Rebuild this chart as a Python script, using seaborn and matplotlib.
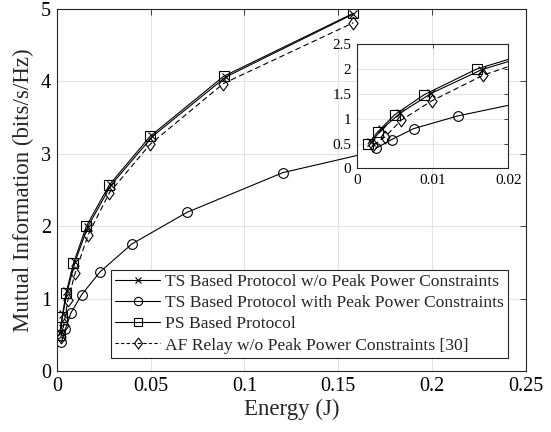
import matplotlib
matplotlib.use("Agg")
import matplotlib.pyplot as plt
import seaborn as sns
import pandas as pd
from matplotlib.lines import Line2D

# ---- data ----
ts_nopeak_E  = [0.0019, 0.0033, 0.0057, 0.0098, 0.0165, 0.029, 0.051, 0.090, 0.158]
ts_nopeak_MI = [0.53, 0.79, 1.11, 1.51, 1.99, 2.57, 3.24, 4.06, 4.93]

ts_peak_E  = [0.0025, 0.0046, 0.0075, 0.0133, 0.0231, 0.040, 0.0693, 0.1205, 0.209]
ts_peak_MI = [0.40, 0.58, 0.80, 1.055, 1.37, 1.754, 2.19, 2.74, 3.27]

ps_E  = [0.00150, 0.0028, 0.0050, 0.0089, 0.0158, 0.0280, 0.0497, 0.0889, 0.158]
ps_MI = [0.50, 0.74, 1.08, 1.485, 2.00, 2.57, 3.24, 4.07, 4.94]

af_E  = [0.0022, 0.0037, 0.0059, 0.0099, 0.0167, 0.0280, 0.0497, 0.0888, 0.158]
af_MI = [0.47, 0.63, 0.975, 1.36, 1.88, 2.46, 3.13, 3.97, 4.81]

labels = ["TS Based Protocol w/o Peak Power Constraints",
          "TS Based Protocol with Peak Power Constraints",
          "PS Based Protocol",
          "AF Relay w/o Peak Power Constraints [30]"]

main_xticks = [0, 0.05, 0.1, 0.15, 0.2, 0.25]
main_xticklabels = ["0", "0.05", "0.1", "0.15", "0.2", "0.25"]
main_yticks = [0, 1, 2, 3, 4, 5]
inset_xticks = [0, 0.01, 0.02]
inset_xticklabels = ["0", "0.01", "0.02"]
inset_yticks = [0, 0.5, 1, 1.5, 2, 2.5]
inset_yticklabels = ["0", "0.5", "1", "1.5", "2", "2.5"]

DIAMOND = [(0, 1), (0.72, 0), (0, -1), (-0.72, 0), (0, 1)]

series = [
    (ts_nopeak_E, ts_nopeak_MI, labels[0], "x", "-"),
    (ts_peak_E, ts_peak_MI, labels[1], "o", "-"),
    (ps_E, ps_MI, labels[2], "s", "-"),
    (af_E, af_MI, labels[3], "dia", "--"),
]
msizes = {"x": 6, "o": 7, "s": 7, "dia": 9.2}
legsizes = {"x": 5, "o": 6, "s": 5.5, "dia": 8}

def mk_of(m):
    return DIAMOND if m == "dia" else m

sns.set_theme(style="white")
plt.rcParams["font.family"] = ["Liberation Serif", "DejaVu Serif"]

fig = plt.figure(figsize=(5.51, 4.32), dpi=100)
ax = fig.add_axes([0.1030, 0.1412, 0.8515, 0.8380])

axcol = "#262626"
gridcol = "#e3e3e3"

def draw(a):
    for E, MI, lab, mk, ls in series:
        df = pd.DataFrame({"E": E, "MI": MI})
        sns.lineplot(data=df, x="E", y="MI", ax=a, color="black",
                     linewidth=0.8, marker=mk_of(mk), markersize=msizes[mk],
                     markerfacecolor="none", markeredgecolor="black",
                     markeredgewidth=0.8, sort=False, estimator=None,
                     legend=False)
        line = a.get_lines()[-1]
        line.set_linestyle(ls)
        if ls == "--":
            line.set_dashes([5, 3])

def style(a, fs):
    a.grid(True, color=gridcol, linewidth=0.8)
    a.set_axisbelow(True)
    for s in a.spines.values():
        s.set_color(axcol)
        s.set_linewidth(0.8)
        s.set_visible(True)
    a.tick_params(direction="in", length=4, width=0.6, colors=axcol,
                  top=True, right=True, labelsize=fs, labelcolor="black", pad=4)

draw(ax)
ax.set_xlim(0, 0.25)
ax.set_ylim(0, 5)
ax.set_xticks(main_xticks)
ax.set_xticklabels(main_xticklabels)
ax.set_yticks(main_yticks)
style(ax, 14.5)
ax.set_xlabel("Energy (J)", fontsize=16.5, labelpad=2)
ax.set_ylabel("Mutual Information (bits/s/Hz)", fontsize=16.5, labelpad=5)

# legend
handles = []
for E, MI, lab, mk, ls in series:
    h = Line2D([], [], color="black", linestyle=ls, linewidth=0.8, marker=mk_of(mk),
               markersize=legsizes[mk], markerfacecolor="none", markeredgewidth=0.8)
    if ls == "--":
        h.set_dashes([3, 2])
    handles.append(h)
leg = ax.legend(handles, labels, loc="lower right", bbox_to_anchor=(0.962, 0.036),
                fontsize=12.6, frameon=True, fancybox=False, framealpha=1,
                edgecolor=axcol, borderpad=0.25, labelspacing=0.28,
                handlelength=2.6, handletextpad=0.25, borderaxespad=0)
leg.get_frame().set_linewidth(0.8)

# inset
axin = fig.add_axes([0.6475, 0.6104, 0.2751, 0.2870])
axin.set_facecolor("white")
draw(axin)
axin.set_xlim(0, 0.02)
axin.set_ylim(0, 2.5)
axin.set_xticks(inset_xticks)
axin.set_xticklabels(inset_xticklabels)
axin.set_yticks(inset_yticks)
axin.set_yticklabels(inset_yticklabels)
style(axin, 11)
axin.tick_params(length=3)
axin.set_xlabel("")
axin.set_ylabel("")

fig.savefig("out.png", dpi=100)
